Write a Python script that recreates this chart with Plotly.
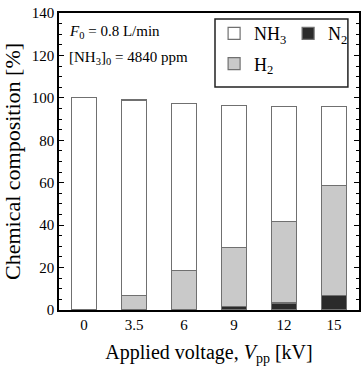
import plotly.graph_objects as go

voltages = ["0", "3.5", "6", "9", "12", "15"]
n2 = [0.0, 0.0, 0.4, 1.6, 3.3, 7.0]
h2 = [0.0, 7.0, 18.1, 27.7, 38.3, 51.6]
nh3 = [100.0, 92.0, 78.7, 67.1, 54.3, 37.3]
y_ticks = [0, 20, 40, 60, 80, 100, 120, 140]

FONT = "Liberation Serif"
EDGE = "#707070"

fig = go.Figure()
fig.add_trace(go.Bar(x=voltages, y=n2, name="N<sub>2</sub>",
                     marker=dict(color="#2b2b2b", line=dict(color=EDGE, width=1.2)),
                     legend="legend", legendrank=2))
fig.add_trace(go.Bar(x=voltages, y=h2, name="H<sub>2</sub>",
                     marker=dict(color="#c9c9c9", line=dict(color=EDGE, width=1.2)),
                     legend="legend2"))
fig.add_trace(go.Bar(x=voltages, y=nh3, name="NH<sub>3</sub>",
                     marker=dict(color="#ffffff", line=dict(color=EDGE, width=1.2)),
                     legend="legend", legendrank=1))

fig.add_hline(y=100, line=dict(color="#222222", width=1))

legend_common = dict(orientation="h", font=dict(family=FONT, size=18, color="black"),
                     bgcolor="rgba(0,0,0,0)", borderwidth=0, traceorder="normal",
                     xanchor="left", yanchor="top", entrywidth=29, entrywidthmode="pixels")

fig.update_layout(
    width=363, height=368,
    margin=dict(l=59, r=4, t=13, b=58, autoexpand=False),
    paper_bgcolor="white", plot_bgcolor="white",
    barmode="stack", bargap=0.494,
    font=dict(family=FONT, size=15, color="black"),
    legend=dict(x=0.517, y=0.993, **legend_common),
    legend2=dict(x=0.517, y=0.891, **legend_common),
    xaxis=dict(
        type="category", showgrid=False, ticks="", showline=True, linecolor="black",
        linewidth=1.5, mirror=True, tickfont=dict(size=15),
        title=dict(text="Applied voltage, <i>V</i><sub>pp</sub> [kV]",
                   font=dict(size=20), standoff=13),
    ),
    yaxis=dict(
        range=[0, 140], tickvals=y_ticks, showgrid=False, zeroline=False,
        ticks="inside", ticklen=5, tickwidth=1.2, tickcolor="black",
        minor=dict(dtick=5, ticks="inside", ticklen=3, tickwidth=1, tickcolor="black", showgrid=False),
        showline=True, linecolor="black", linewidth=1.5, mirror="ticks",
        tickfont=dict(size=15),
        title=dict(text="Chemical composition [%]", font=dict(size=22), standoff=6),
    ),
    shapes=[dict(type="rect", xref="paper", yref="paper", x0=0.52, x1=0.963, y0=0.751, y1=0.98,
                 line=dict(color="#222222", width=1.5), fillcolor="rgba(0,0,0,0)")],
    annotations=[
        dict(text="<i>F</i><sub>0</sub> = 0.8 L/min", xref="paper", yref="paper",
             x=0.026, y=0.937, xanchor="left", yanchor="middle", showarrow=False,
             font=dict(size=15)),
        dict(text="[NH<sub>3</sub>]<sub>0</sub> = 4840 ppm", xref="paper", yref="paper",
             x=0.026, y=0.847, xanchor="left", yanchor="middle", showarrow=False,
             font=dict(size=15)),
    ],
)

fig.write_html("out.html")
